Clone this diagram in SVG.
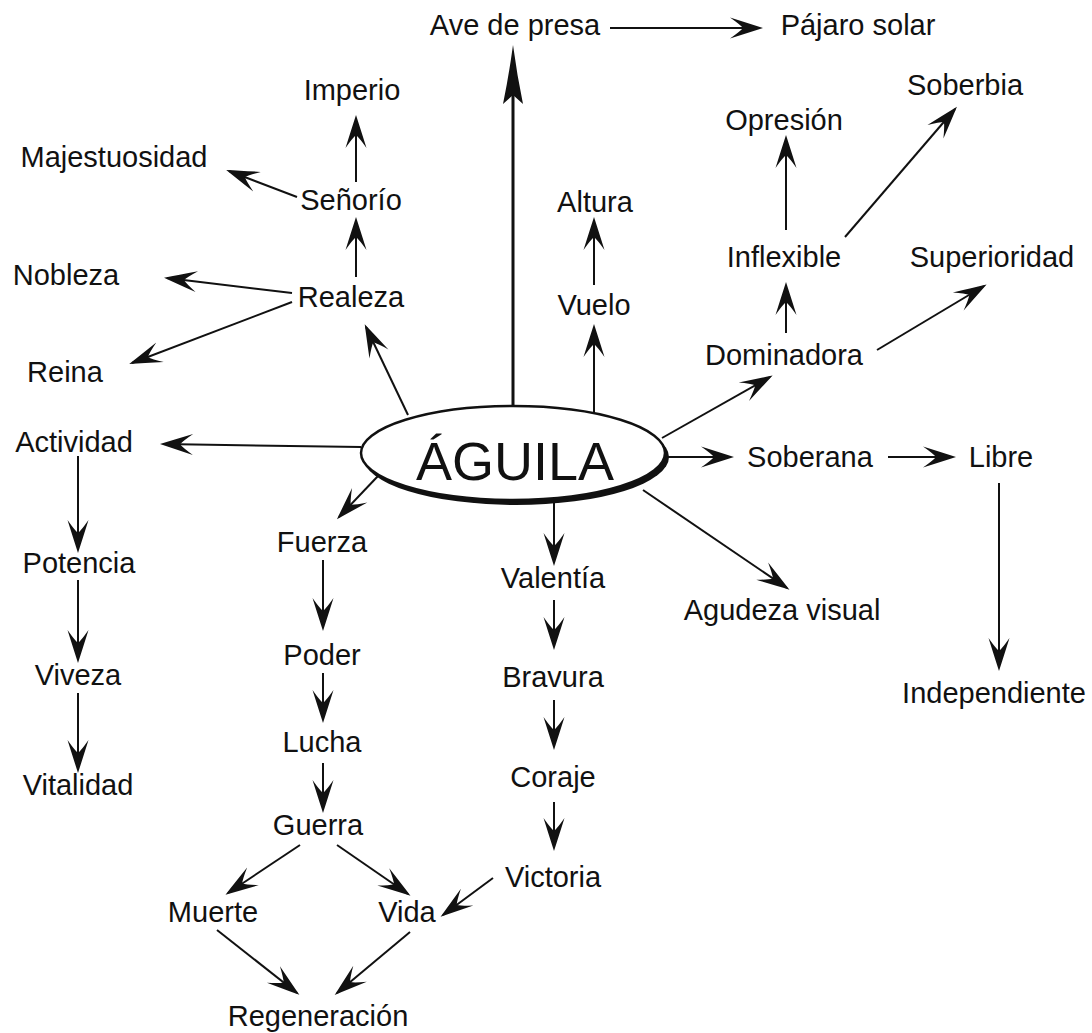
<svg xmlns="http://www.w3.org/2000/svg" width="1092" height="1033" viewBox="0 0 1092 1033">
<style>
text{font-family:"Liberation Sans",Arial,sans-serif;font-size:29px;fill:#111;text-anchor:middle}
.c line{stroke:#111;stroke-width:2;fill:none;marker-end:url(#ah)}
</style>
<defs>
<marker id="ah" viewBox="-36 -12 40 24" refX="-3" refY="0" markerWidth="40" markerHeight="24" markerUnits="userSpaceOnUse" orient="auto">
<path d="M0,0 Q-14,-4.5 -33,-10.5 Q-23,-3.5 -20,0 Q-23,3.5 -33,10.5 Q-14,4.5 0,0 Z" fill="#111"/>
</marker>
</defs>
<rect width="1092" height="1033" fill="#fff"/>
<g class="c" id="connectors">
<line x1="513" y1="405" x2="513" y2="94" style="stroke-width:3;marker-end:none"/>
<path d="M513,45 Q517,75 523,104 L513,95 L503,104 Q509,75 513,45 Z" fill="#111"/>
<line x1="610" y1="28" x2="760" y2="28"/>
<line x1="356" y1="182" x2="356" y2="118"/>
<line x1="297" y1="197" x2="229" y2="171"/>
<line x1="356" y1="277" x2="356" y2="220"/>
<line x1="292" y1="293" x2="167" y2="278"/>
<line x1="292" y1="302" x2="132" y2="363"/>
<line x1="408" y1="415" x2="366" y2="327"/>
<line x1="361" y1="447" x2="163" y2="444"/>
<line x1="78" y1="456" x2="78" y2="550"/>
<line x1="78" y1="580" x2="78" y2="660"/>
<line x1="78" y1="693" x2="78" y2="770"/>
<line x1="378" y1="476" x2="339" y2="517"/>
<line x1="323" y1="560" x2="323" y2="628"/>
<line x1="323" y1="673" x2="323" y2="720"/>
<line x1="323" y1="763" x2="323" y2="810"/>
<line x1="300" y1="845" x2="228" y2="893"/>
<line x1="337" y1="845" x2="408" y2="894"/>
<line x1="217" y1="930" x2="297" y2="993"/>
<line x1="410" y1="932" x2="337" y2="993"/>
<line x1="493" y1="878" x2="443" y2="915"/>
<line x1="554" y1="500" x2="554" y2="563"/>
<line x1="554" y1="600" x2="554" y2="647"/>
<line x1="554" y1="700" x2="554" y2="747"/>
<line x1="554" y1="802" x2="554" y2="848"/>
<line x1="643" y1="490" x2="787" y2="588"/>
<line x1="594" y1="412" x2="594" y2="327"/>
<line x1="594" y1="285" x2="594" y2="220"/>
<line x1="662" y1="438" x2="770" y2="377"/>
<line x1="786" y1="333" x2="786" y2="285"/>
<line x1="786" y1="230" x2="786" y2="138"/>
<line x1="845" y1="237" x2="955" y2="109"/>
<line x1="877" y1="350" x2="984" y2="286"/>
<line x1="667" y1="457" x2="731" y2="457"/>
<line x1="888" y1="457" x2="953" y2="457"/>
<line x1="999" y1="483" x2="999" y2="668"/>
</g>
<g id="aguila">
<ellipse cx="516" cy="457" rx="153" ry="48" fill="#111"/>
<ellipse cx="513" cy="453" rx="152" ry="47" fill="#fff" stroke="#111" stroke-width="2.5"/>
<text x="515" y="480" style="font-size:54px">ÁGUILA</text>
</g>
<g id="ave-de-presa"><text x="515" y="35">Ave de presa</text></g>
<g id="pajaro-solar"><text x="858" y="35">Pájaro solar</text></g>
<g id="imperio"><text x="352" y="100">Imperio</text></g>
<g id="majestuosidad"><text x="114" y="167">Majestuosidad</text></g>
<g id="senorio"><text x="351" y="210">Señorío</text></g>
<g id="nobleza"><text x="66" y="285">Nobleza</text></g>
<g id="realeza"><text x="351" y="307">Realeza</text></g>
<g id="reina"><text x="65" y="382">Reina</text></g>
<g id="actividad"><text x="74" y="452">Actividad</text></g>
<g id="potencia"><text x="79" y="573">Potencia</text></g>
<g id="viveza"><text x="78" y="685">Viveza</text></g>
<g id="vitalidad"><text x="78" y="795">Vitalidad</text></g>
<g id="fuerza"><text x="322" y="552">Fuerza</text></g>
<g id="poder"><text x="322" y="665">Poder</text></g>
<g id="lucha"><text x="322" y="752">Lucha</text></g>
<g id="guerra"><text x="318" y="835">Guerra</text></g>
<g id="muerte"><text x="213" y="922">Muerte</text></g>
<g id="vida"><text x="407" y="922">Vida</text></g>
<g id="regeneracion"><text x="318" y="1026">Regeneración</text></g>
<g id="valentia"><text x="553" y="588">Valentía</text></g>
<g id="bravura"><text x="553" y="687">Bravura</text></g>
<g id="coraje"><text x="553" y="787">Coraje</text></g>
<g id="victoria"><text x="553" y="887">Victoria</text></g>
<g id="agudeza"><text x="782" y="620">Agudeza visual</text></g>
<g id="altura"><text x="595" y="212">Altura</text></g>
<g id="vuelo"><text x="594" y="315">Vuelo</text></g>
<g id="opresion"><text x="784" y="130">Opresión</text></g>
<g id="soberbia"><text x="965" y="95">Soberbia</text></g>
<g id="inflexible"><text x="784" y="267">Inflexible</text></g>
<g id="superioridad"><text x="992" y="267">Superioridad</text></g>
<g id="dominadora"><text x="784" y="365">Dominadora</text></g>
<g id="soberana"><text x="810" y="467">Soberana</text></g>
<g id="libre"><text x="1001" y="467">Libre</text></g>
<g id="independiente"><text x="994" y="703">Independiente</text></g>
</svg>
